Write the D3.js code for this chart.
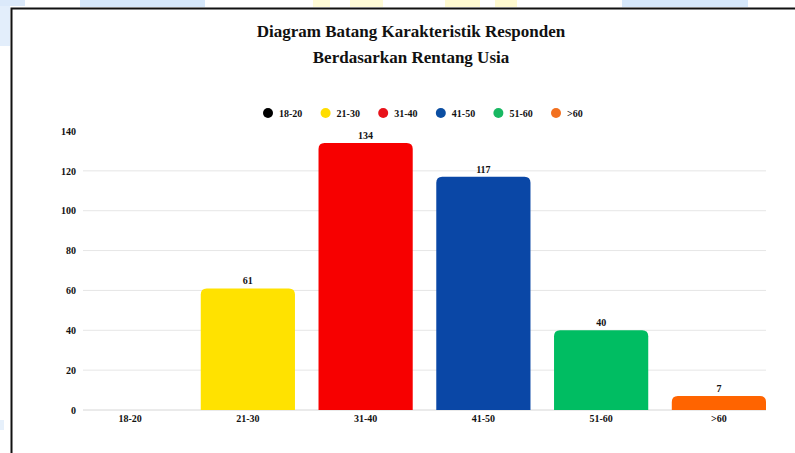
<!DOCTYPE html>
<html><head><meta charset="utf-8">
<script src="https://cdn.jsdelivr.net/npm/d3@7"></script>
<style>html,body{margin:0;padding:0;background:#fff;}svg{display:block;}</style>
</head><body>
<svg id="chart" width="795" height="453"></svg>
<script>
const titleLines = ["Diagram Batang Karakteristik Responden", "Berdasarkan Rentang Usia"];
const categories = ["18-20", "21-30", "31-40", "41-50", "51-60", ">60"];
const values = [0, 61, 134, 117, 40, 7];
const barColors = ["#000000", "#FFE200", "#F70000", "#0A47A6", "#00BD62", "#FF6400"];
const legendColors = ["#000000", "#FFDD00", "#E8121A", "#0B4EA2", "#18B862", "#F2701F"];
const yTicks = [0, 20, 40, 60, 80, 100, 120, 140];

const svg = d3.select("#chart");
const font = "'Liberation Serif','Times New Roman',serif";

// faint watermark patches outside the frame
const patches = [
  [0,0,25,6,"#dbe9fa"],[0,6,10,40,"#e3eefb"],[80,0,125,7,"#d6e8fb"],
  [313,0,17,7,"#fffbd6"],[350,0,33,7,"#fffbd6"],[445,0,35,7,"#fffad0"],
  [495,0,22,7,"#fffad0"],[622,0,126,7,"#d6e8fb"],[0,420,4,10,"#e6f0fb"]
];
svg.selectAll("rect.wm").data(patches).join("rect").attr("class","wm")
  .attr("x",d=>d[0]).attr("y",d=>d[1]).attr("width",d=>d[2]).attr("height",d=>d[3]).attr("fill",d=>d[4]);

// frame
svg.append("path").attr("d","M11.5,453 V8.5 H795").attr("fill","none").attr("stroke","#111").attr("stroke-width",2);

// title
svg.selectAll("text.title").data(titleLines).join("text").attr("class","title")
  .attr("x",411).attr("y",(d,i)=>37+i*26).attr("text-anchor","middle")
  .attr("font-family",font).attr("font-weight","bold").attr("font-size",17).attr("fill","#111")
  .text(d=>d);

const x = d3.scaleBand().domain(categories).range([83,766]).paddingInner(0.2).paddingOuter(0);
const y = d3.scaleLinear().domain([0,140]).range([410,131]);

// gridlines (none at the top tick)
svg.append("g").selectAll("line").data(yTicks.filter(t=>t<140)).join("line")
  .attr("x1",83).attr("x2",766).attr("y1",d=>y(d)).attr("y2",d=>y(d))
  .attr("stroke",(d)=>d===0?"#d6d6d6":"#e6e6e6").attr("stroke-width",1);

// y axis labels
const yAxis = d3.axisLeft(y).tickValues(yTicks).tickSize(0).tickPadding(0);
const yg = svg.append("g").attr("transform","translate(76,0)").call(yAxis);
yg.select(".domain").remove();
yg.selectAll("text").attr("font-family",font).attr("font-weight","bold").attr("font-size",10).attr("fill","#111");

// x axis labels
const xAxis = d3.axisBottom(x).tickSize(0).tickPadding(0);
const xg = svg.append("g").attr("transform","translate(0,415)").call(xAxis);
xg.select(".domain").remove();
xg.selectAll("text").attr("font-family",font).attr("font-weight","bold").attr("font-size",10).attr("fill","#111");

// bars with rounded top corners
function barPath(x0, w, yTop, yBase, r){
  const h = yBase - yTop;
  if (h <= 0) return "";
  r = Math.min(r, h, w/2);
  return `M${x0},${yBase} V${yTop+r} Q${x0},${yTop} ${x0+r},${yTop} H${x0+w-r} Q${x0+w},${yTop} ${x0+w},${yTop+r} V${yBase} Z`;
}
const data = categories.map((c,i)=>({c, v: values[i], col: barColors[i]}));
svg.append("g").selectAll("path").data(data).join("path")
  .attr("d",d=>barPath(x(d.c), x.bandwidth(), y(d.v), y(0), 6))
  .attr("fill",d=>d.col);

// value labels
svg.append("g").selectAll("text").data(data.filter(d=>d.v>0)).join("text")
  .attr("x",d=>x(d.c)+x.bandwidth()/2).attr("y",d=>y(d.v)-4)
  .attr("text-anchor","middle").attr("font-family",font).attr("font-weight","bold")
  .attr("font-size",10).attr("fill","#111").text(d=>d.v);

// legend
const lg = svg.append("g").selectAll("g").data(categories).join("g")
  .attr("transform",(d,i)=>`translate(${268+i*57.6},113)`);
lg.append("circle").attr("r",5).attr("fill",(d,i)=>legendColors[i]);
lg.append("text").attr("x",11).attr("y",3.5).attr("font-family",font).attr("font-weight","bold")
  .attr("font-size",10).attr("fill","#111").text(d=>d);
</script>
</body></html>
